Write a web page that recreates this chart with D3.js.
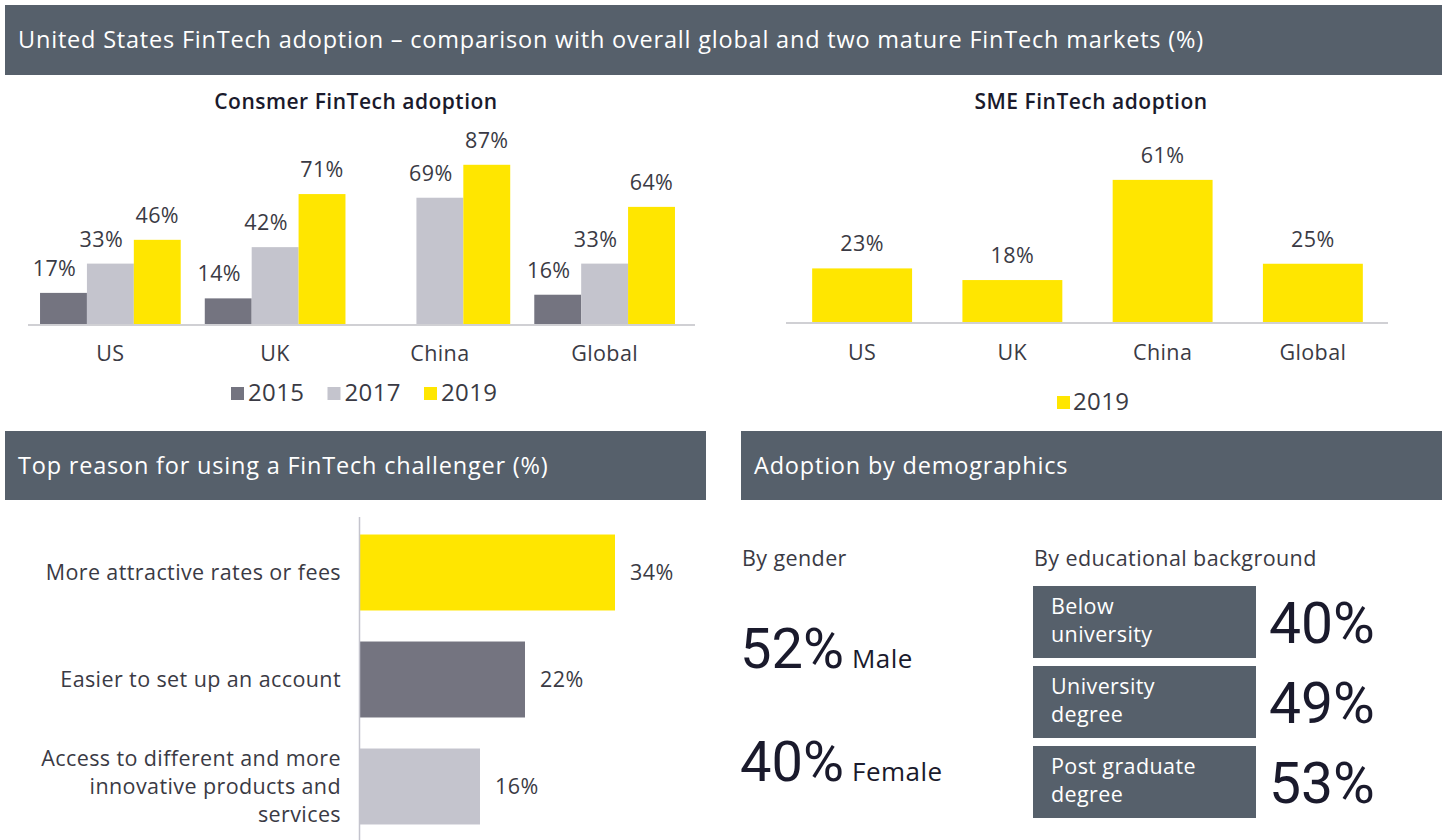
<!DOCTYPE html>
<html>
<head>
<meta charset="utf-8">
<script src="https://cdn.jsdelivr.net/npm/d3@7"></script>
<style>
  body { margin: 0; background: #fff; }
  svg { display: block; font-family: "Open Sans", Roboto, sans-serif; letter-spacing: 0.4px; }
  .big { font-family: Roboto, "Open Sans", sans-serif; letter-spacing: 0; }
</style>
</head>
<body>
<script>
var svgWidth = 1447;
var svgHeight = 840;

// data
var countries = ["US", "UK", "China", "Global"];
var years = ["2015", "2017", "2019"];
var consumer2015 = [17, 14, null, 16];
var consumer2017 = [33, 42, 69, 33];
var consumer2019 = [46, 71, 87, 64];
var smeYears = ["2019"];
var sme2019 = [23, 18, 61, 25];
var reasonLabels = [
    ["More attractive rates or fees"],
    ["Easier to set up an account"],
    ["Access to different and more", "innovative products and", "services"]
];
var reasonValues = [34, 22, 16];
var genderLabels = ["Male", "Female"];
var genderValues = [52, 40];
var eduLabels = [["Below", "university"], ["University", "degree"], ["Post graduate", "degree"]];
var eduValues = [40, 49, 53];

var headerColor = "#56606b";
var textColor = "#3a3a44";
var darkText = "#1a1a2c";
var yearColors = ["#747480", "#c4c4cd", "#ffe600"];
var fs = 21.5;

var svg = d3.select("body")
    .append("svg")
    .attr("width", svgWidth)
    .attr("height", svgHeight);

// header bars
function header(x, y, w, h, label) {
    svg.append("rect")
        .attr("x", x).attr("y", y)
        .attr("width", w).attr("height", h)
        .attr("fill", headerColor);
    svg.append("text")
        .attr("x", x + 13)
        .attr("y", y + h / 2 + 8)
        .attr("fill", "#fff")
        .attr("font-size", 23.5)
        .attr("letter-spacing", 0.8)
        .text(label);
}
header(5, 5, 1437, 70, "United States FinTech adoption – comparison with overall global and two mature FinTech markets (%)");
header(5, 431, 701, 69, "Top reason for using a FinTech challenger (%)");
header(741, 431, 701, 69, "Adoption by demographics");

// ---- consumer chart ----
var consumerRows = countries.map((c, i) => ({
    country: c,
    values: [consumer2015[i], consumer2017[i], consumer2019[i]]
}));

var cX0 = d3.scaleBand()
    .domain(countries)
    .range([28, 687])
    .paddingInner(0.146)
    .paddingOuter(0.073);

var cX1 = d3.scaleBand()
    .domain(years)
    .range([0, cX0.bandwidth()]);

var cY = d3.scaleLinear()
    .domain([0, 100])
    .range([324, 141]);

svg.append("text")
    .attr("x", 356).attr("y", 109)
    .attr("text-anchor", "middle")
    .attr("font-size", 21).attr("font-weight", 600)
    .attr("letter-spacing", 0.5)
    .attr("fill", darkText)
    .text("Consmer FinTech adoption");

var labelShift = [-9, -9, 0];

var cGroups = svg.selectAll(".cgroup")
    .data(consumerRows).enter()
    .append("g")
    .attr("transform", d => "translate(" + cX0(d.country) + ",0)");

cGroups.selectAll("rect")
    .data(d => d.values.map((v, j) => ({ year: years[j], value: v, j: j })).filter(e => e.value !== null))
    .enter()
    .append("rect")
    .attr("x", d => cX1(d.year))
    .attr("y", d => cY(d.value))
    .attr("width", cX1.bandwidth())
    .attr("height", d => cY(0) - cY(d.value))
    .attr("fill", d => yearColors[d.j]);

cGroups.selectAll("text")
    .data(d => d.values.map((v, j) => ({ year: years[j], value: v, j: j })).filter(e => e.value !== null))
    .enter()
    .append("text")
    .attr("x", d => cX1(d.year) + cX1.bandwidth() / 2 + labelShift[d.j])
    .attr("y", d => cY(d.value) - 17)
    .attr("text-anchor", "middle")
    .attr("font-size", fs)
    .attr("fill", textColor)
    .text(d => d.value + "%");

svg.append("line")
    .attr("x1", 28).attr("x2", 695)
    .attr("y1", cY(0) + 1).attr("y2", cY(0) + 1)
    .attr("stroke", "#d0d0d4").attr("stroke-width", 2);

svg.selectAll(".ccat")
    .data(countries).enter()
    .append("text")
    .attr("x", d => cX0(d) + cX0.bandwidth() / 2)
    .attr("y", 361)
    .attr("text-anchor", "middle")
    .attr("font-size", fs)
    .attr("fill", textColor)
    .text(d => d);

var cLegend = svg.selectAll(".clegend")
    .data(years).enter()
    .append("g")
    .attr("transform", (d, i) => "translate(" + (231 + i * 96.5) + ",387)");
cLegend.append("rect")
    .attr("width", 13).attr("height", 13)
    .attr("fill", (d, i) => yearColors[i]);
cLegend.append("text")
    .attr("x", 17).attr("y", 14)
    .attr("font-size", 24)
    .attr("fill", textColor)
    .text(d => d);

// ---- SME chart ----
var sX = d3.scaleBand()
    .domain(countries)
    .range([787, 1388])
    .paddingInner(0.335)
    .paddingOuter(0.1675);

var sY = d3.scaleLinear()
    .domain([0, 100])
    .range([322, 89]);

svg.append("text")
    .attr("x", 1091).attr("y", 109)
    .attr("text-anchor", "middle")
    .attr("font-size", 21).attr("font-weight", 600)
    .attr("letter-spacing", 0.5)
    .attr("fill", darkText)
    .text("SME FinTech adoption");

svg.selectAll(".sbar")
    .data(sme2019).enter()
    .append("rect")
    .attr("x", (d, i) => sX(countries[i]))
    .attr("y", d => sY(d))
    .attr("width", sX.bandwidth())
    .attr("height", d => sY(0) - sY(d))
    .attr("fill", yearColors[2]);

svg.selectAll(".slabel")
    .data(sme2019).enter()
    .append("text")
    .attr("x", (d, i) => sX(countries[i]) + sX.bandwidth() / 2)
    .attr("y", d => sY(d) - 17)
    .attr("text-anchor", "middle")
    .attr("font-size", fs)
    .attr("fill", textColor)
    .text(d => d + "%");

svg.append("line")
    .attr("x1", 786).attr("x2", 1388)
    .attr("y1", sY(0) + 1).attr("y2", sY(0) + 1)
    .attr("stroke", "#d0d0d4").attr("stroke-width", 2);

svg.selectAll(".scat")
    .data(countries).enter()
    .append("text")
    .attr("x", d => sX(d) + sX.bandwidth() / 2)
    .attr("y", 360)
    .attr("text-anchor", "middle")
    .attr("font-size", fs)
    .attr("fill", textColor)
    .text(d => d);

var sLegend = svg.selectAll(".slegend")
    .data(smeYears).enter()
    .append("g")
    .attr("transform", "translate(1057,396)");
sLegend.append("rect")
    .attr("width", 13).attr("height", 13)
    .attr("fill", yearColors[2]);
sLegend.append("text")
    .attr("x", 16).attr("y", 14)
    .attr("font-size", 24)
    .attr("fill", textColor)
    .text(d => d);

// ---- top reason ----
var rX = d3.scaleLinear()
    .domain([0, 40])
    .range([360, 660]);

var rY = d3.scaleBand()
    .domain(d3.range(reasonValues.length))
    .range([519, 840])
    .paddingInner(0.29)
    .paddingOuter(0.145);

var reasonColors = [yearColors[2], yearColors[0], yearColors[1]];

svg.selectAll(".rbar")
    .data(reasonValues).enter()
    .append("rect")
    .attr("x", rX(0))
    .attr("y", (d, i) => rY(i))
    .attr("width", d => rX(d) - rX(0))
    .attr("height", rY.bandwidth())
    .attr("fill", (d, i) => reasonColors[i]);

svg.selectAll(".rval")
    .data(reasonValues).enter()
    .append("text")
    .attr("x", d => rX(d) + 15)
    .attr("y", (d, i) => rY(i) + rY.bandwidth() / 2 + 7)
    .attr("font-size", fs)
    .attr("fill", textColor)
    .text(d => d + "%");

var rLabels = svg.selectAll(".rlab")
    .data(reasonLabels).enter()
    .append("text")
    .attr("text-anchor", "end")
    .attr("font-size", fs)
    .attr("fill", textColor);
rLabels.selectAll("tspan")
    .data((d, i) => d.map((line, k) => ({ line: line, k: k, n: d.length, i: i })))
    .enter()
    .append("tspan")
    .attr("x", 341)
    .attr("y", d => rY(d.i) + rY.bandwidth() / 2 + 7 + (d.k - (d.n - 1) / 2) * 28)
    .text(d => d.line);

svg.append("line")
    .attr("x1", 359.5).attr("x2", 359.5)
    .attr("y1", 517).attr("y2", 840)
    .attr("stroke", "#c4c4cd").attr("stroke-width", 1.5);

// ---- demographics ----
svg.append("text")
    .attr("x", 742).attr("y", 566)
    .attr("font-size", fs).attr("fill", textColor)
    .text("By gender");
svg.append("text")
    .attr("x", 1034).attr("y", 566)
    .attr("font-size", fs).attr("fill", textColor)
    .text("By educational background");

var gY = d3.scalePoint()
    .domain(genderLabels)
    .range([668, 781]);

var gRows = svg.selectAll(".grow")
    .data(genderLabels).enter()
    .append("text")
    .attr("x", 740)
    .attr("y", d => gY(d))
    .attr("fill", darkText);
gRows.append("tspan")
    .attr("class", "big")
    .attr("font-size", 56)
    .text((d, i) => genderValues[i] + "%");
gRows.append("tspan")
    .attr("font-size", 26)
    .attr("letter-spacing", 0.5)
    .attr("dx", 8)
    .text(d => d);

var eY = d3.scaleBand()
    .domain(d3.range(eduValues.length))
    .range([586, 818])
    .paddingInner(0.1)
    .paddingOuter(0);

svg.selectAll(".ebox")
    .data(eduValues).enter()
    .append("rect")
    .attr("x", 1033)
    .attr("y", (d, i) => eY(i))
    .attr("width", 223)
    .attr("height", eY.bandwidth())
    .attr("fill", headerColor);

var eText = svg.selectAll(".elab")
    .data(eduLabels).enter()
    .append("text")
    .attr("font-size", fs)
    .attr("fill", "#fff");
eText.selectAll("tspan")
    .data((d, i) => d.map((line, k) => ({ line: line, k: k, i: i })))
    .enter()
    .append("tspan")
    .attr("x", 1051)
    .attr("y", d => eY(d.i) + 28 + d.k * 28)
    .text(d => d.line);

svg.selectAll(".eval")
    .data(eduValues).enter()
    .append("text")
    .attr("class", "big")
    .attr("x", 1269)
    .attr("y", (d, i) => eY(i) + eY.bandwidth() / 2 + 21)
    .attr("font-size", 57)
    .attr("fill", darkText)
    .text(d => d + "%");
</script>
</body>
</html>
